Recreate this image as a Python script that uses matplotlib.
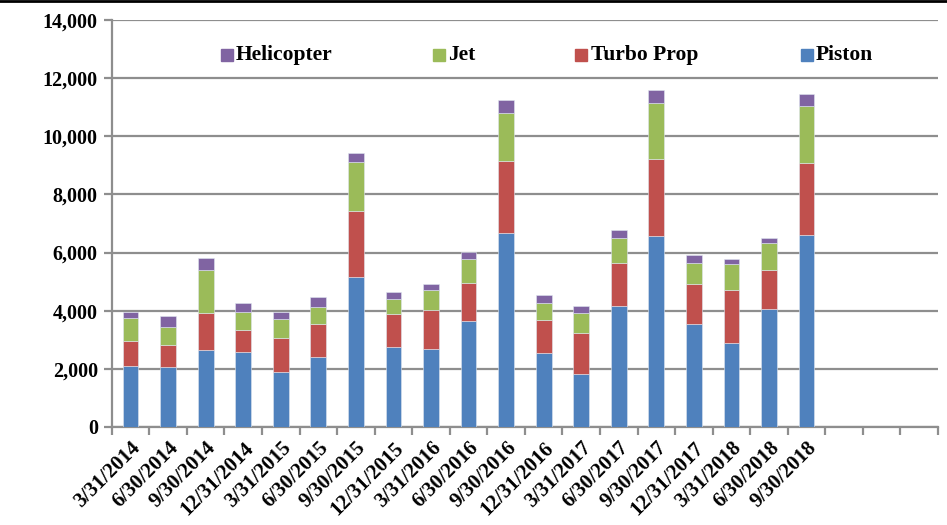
import numpy as np
import matplotlib.pyplot as plt
from matplotlib.lines import Line2D

# Quarterly data
dates = ['3/31/2014', '6/30/2014', '9/30/2014', '12/31/2014',
         '3/31/2015', '6/30/2015', '9/30/2015', '12/31/2015',
         '3/31/2016', '6/30/2016', '9/30/2016', '12/31/2016',
         '3/31/2017', '6/30/2017', '9/30/2017', '12/31/2017',
         '3/31/2018', '6/30/2018', '9/30/2018']
piston = [2100, 2070, 2650, 2590, 1880, 2400, 5170, 2740, 2670, 3635,
          6660, 2550, 1835, 4175, 6570, 3545, 2900, 4050, 6595]
turbo_prop = [870, 750, 1270, 760, 1170, 1150, 2270, 1135, 1365, 1330,
              2500, 1140, 1400, 1480, 2650, 1390, 1800, 1360, 2475]
jet = [770, 610, 1490, 600, 665, 565, 1660, 540, 665, 800,
       1630, 585, 690, 850, 1925, 710, 920, 920, 1985]
helicopter = [230, 380, 400, 320, 250, 355, 320, 220, 220, 240,
              460, 275, 230, 265, 450, 275, 160, 170, 410]
n_slots = 22  # axis has room for 3 more quarters

colors = {'Piston': '#4F81BD', 'Turbo Prop': '#C0504D',
          'Jet': '#9BBB59', 'Helicopter': '#8064A2'}
grid_col = '#8E8E8E'
font = 'Liberation Serif'

fig = plt.figure(figsize=(9.47, 5.25), dpi=100)
ax = fig.add_axes([0.118, 0.1867, 0.8725, 0.7753])

x = np.arange(len(dates))
bottom = np.zeros(len(dates))
for name, vals in [('Piston', piston), ('Turbo Prop', turbo_prop),
                   ('Jet', jet), ('Helicopter', helicopter)]:
    ax.bar(x, vals, width=0.42, bottom=bottom, color=colors[name],
           edgecolor='#dfe6f0', linewidth=0.4, zorder=3)
    bottom += np.array(vals)

ax.set_xlim(-0.5, n_slots - 0.5)
ax.set_ylim(0, 14000)
ax.set_yticks(np.arange(0, 14001, 2000))
ax.set_yticklabels([f'{v:,}' for v in range(0, 14001, 2000)],
                   fontfamily=font, fontweight='bold', fontsize=14.5)
ax.yaxis.grid(True, color=grid_col, linewidth=1.6, zorder=0)

# category labels at bar centres, tick marks at slot boundaries
ax.set_xticks(x)
ax.set_xticklabels(dates, rotation=45, ha='right', rotation_mode='anchor',
                   fontfamily=font, fontweight='bold', fontsize=15)
ax.tick_params(axis='x', length=0, pad=8)
ax.set_xticks(np.arange(n_slots + 1) - 0.5, minor=True)
ax.tick_params(axis='x', which='minor', length=6, width=1.6, color=grid_col)
ax.tick_params(axis='y', length=6, width=1.6, color=grid_col, pad=4)

for s in ['top', 'right']:
    ax.spines[s].set_visible(False)
for s in ['left', 'bottom']:
    ax.spines[s].set_color(grid_col)
    ax.spines[s].set_linewidth(1.6)

# legend entries spread across the top, like the original
legend_pos = [('Helicopter', 0.1335), ('Jet', 0.390),
              ('Turbo Prop', 0.563), ('Piston', 0.836)]
for name, xpos in legend_pos:
    ax.plot([xpos + 0.0055], [0.914], marker='s', markersize=9,
            color=colors[name], transform=ax.transAxes, clip_on=False,
            zorder=5)
    ax.text(xpos + 0.0165, 0.914, name, transform=ax.transAxes,
            fontfamily=font, fontweight='bold', fontsize=15.5,
            va='center', ha='left', zorder=5)

# thin black rule across the top of the image
fig.add_artist(Line2D([0, 1], [0.998, 0.998], color='black', linewidth=2,
                      transform=fig.transFigure))

fig.savefig('out.png', dpi=100)
